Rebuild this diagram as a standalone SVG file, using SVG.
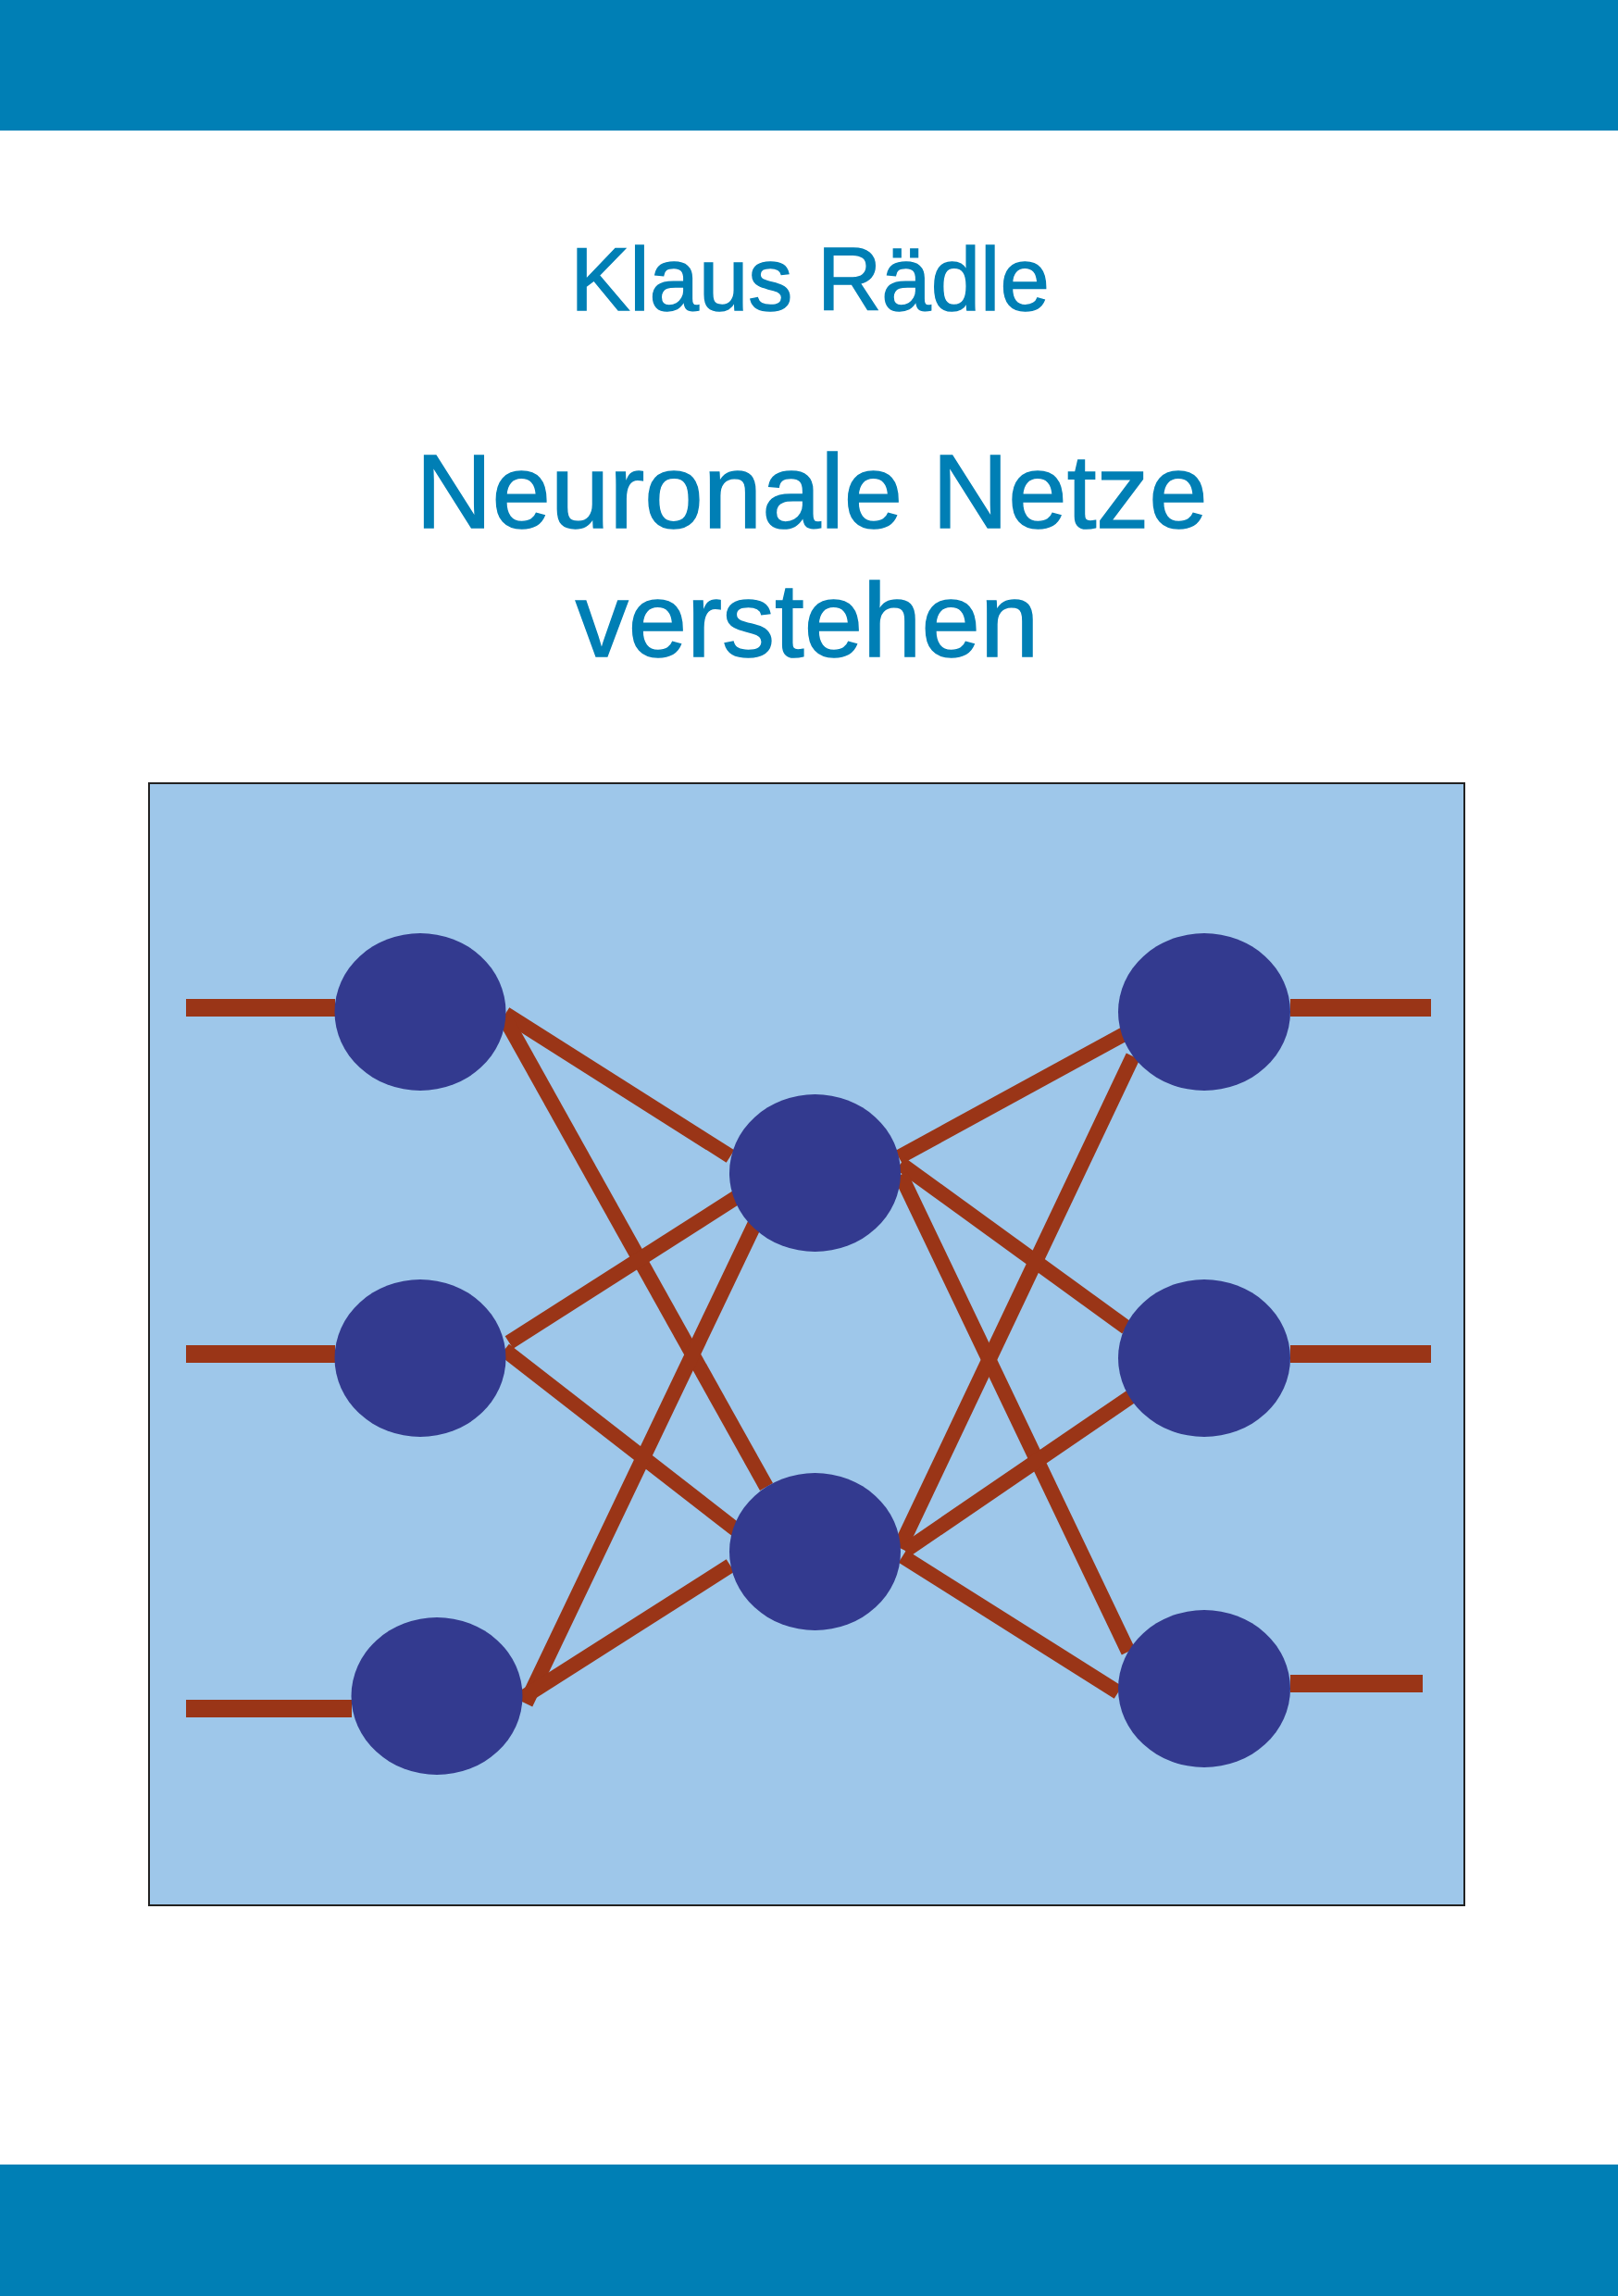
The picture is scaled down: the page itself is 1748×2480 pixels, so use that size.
<svg xmlns="http://www.w3.org/2000/svg" width="1748" height="2480" viewBox="0 0 1748 2480">
<style>
.bar{fill:#007FB5}
.t{font-family:"Liberation Sans",Arial,sans-serif;fill:#007FB5;stroke:#007FB5;stroke-width:1.5;text-anchor:middle}
.node{fill:#333A8F}
.c{stroke:#9A3517;stroke-width:16;stroke-linecap:butt;fill:none}
.io{stroke:#9A3517;stroke-width:19;stroke-linecap:butt;fill:none}
</style>
<rect width="1748" height="2480" fill="#ffffff"/>
<rect class="bar" x="0" y="0" width="1748" height="141"/>
<rect class="bar" x="0" y="2338" width="1748" height="142"/>
<text class="t" x="875" y="335" font-size="96">Klaus Rädle</text>
<text class="t" x="877" y="570" font-size="114">Neuronale Netze</text>
<text class="t" x="872" y="709" font-size="114">verstehen</text>
<rect x="161" y="846" width="1421" height="1212" fill="#9EC7EA" stroke="#222222" stroke-width="2"/>
<g id="connectors">
<line class="io" x1="201" y1="1088.5" x2="362" y2="1088.5"/>
<line class="io" x1="201" y1="1462.5" x2="362" y2="1462.5"/>
<line class="io" x1="201" y1="1845.5" x2="380" y2="1845.5"/>
<line class="io" x1="1394" y1="1088.5" x2="1546" y2="1088.5"/>
<line class="io" x1="1394" y1="1462.5" x2="1546" y2="1462.5"/>
<line class="io" x1="1394" y1="1818.5" x2="1537" y2="1818.5"/>
<line class="c" x1="546" y1="1095" x2="789" y2="1249"/>
<line class="c" x1="545" y1="1099" x2="828" y2="1606"/>
<line class="c" x1="550" y1="1450" x2="796" y2="1293"/>
<line class="c" x1="545" y1="1458" x2="796" y2="1653"/>
<line class="c" x1="568" y1="1840" x2="816" y2="1321"/>
<line class="c" x1="566" y1="1833" x2="789" y2="1691"/>
<line class="c" x1="971" y1="1250" x2="1220" y2="1114"/>
<line class="c" x1="973" y1="1257" x2="1217" y2="1434"/>
<line class="c" x1="973" y1="1269" x2="1219" y2="1784"/>
<line class="c" x1="972" y1="1672" x2="1224" y2="1141"/>
<line class="c" x1="978" y1="1675" x2="1224" y2="1507"/>
<line class="c" x1="975" y1="1681" x2="1208" y2="1828"/>
</g>
<g id="n-i1"><ellipse class="node" cx="454" cy="1093" rx="92.5" ry="85"/></g>
<g id="n-i2"><ellipse class="node" cx="454" cy="1467" rx="92.5" ry="85"/></g>
<g id="n-i3"><ellipse class="node" cx="472" cy="1832" rx="92.5" ry="85"/></g>
<g id="n-h1"><ellipse class="node" cx="880.5" cy="1267" rx="92.5" ry="85"/></g>
<g id="n-h2"><ellipse class="node" cx="880.5" cy="1676" rx="92.5" ry="85"/></g>
<g id="n-o1"><ellipse class="node" cx="1301" cy="1093" rx="93" ry="85"/></g>
<g id="n-o2"><ellipse class="node" cx="1301" cy="1467" rx="93" ry="85"/></g>
<g id="n-o3"><ellipse class="node" cx="1301" cy="1824" rx="93" ry="85"/></g>
</svg>
